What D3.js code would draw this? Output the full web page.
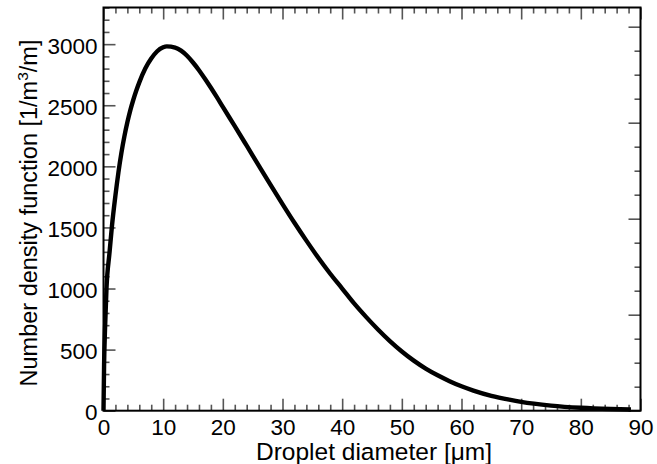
<!DOCTYPE html>
<html>
<head>
<meta charset="utf-8">
<script src="https://cdn.jsdelivr.net/npm/d3@7"></script>
<style>
body{margin:0;background:#fff;}
text{font-family:"Liberation Sans",Arial,Helvetica,sans-serif;}
</style>
</head>
<body>
<svg id="chart" width="657" height="464"></svg>
<script>
// Data
const diameters = [0,0.1,0.25,0.5,1,1.4,2,2.5,3,3.5,4,4.5,5,5.5,6,7,8,9,10,10.6,12,13,14,15,16,17,18,19,20,22,24,26,28,30,32,34,36,38,40,42,44,46,48,50,52,54,56,58,60,62,65,68,70,75,80,85,88.4];
const density   = [0,380,660,1000,1290,1504,1762,1950,2110,2245,2360,2460,2545,2620,2687,2800,2882,2942,2974,2982,2972,2947,2905,2850,2787,2717,2643,2566,2486,2329,2169,2008,1848,1691,1538,1392,1252,1121,1000,878,768,665,570,485,410,345,290,242,200,165,122,90,72,42,24,14,10];
const xTicks = [0,10,20,30,40,50,60,70,80,90];
const yTicks = [0,500,1000,1500,2000,2500,3000];
const xDomain = [0,90];
const yDomain = [0,3300];
const rightDomain = [0,4.2];

const svg = d3.select("#chart");
const L = 103.5, T = 7.5, R = 640.5, B = 410.7;
const x = d3.scaleLinear().domain(xDomain).range([L,R]);
const y = d3.scaleLinear().domain(yDomain).range([B,T]);
const yR = d3.scaleLinear().domain(rightDomain).range([B,T]);

const tickColor = "#555";
function styleAxis(g){
  g.select(".domain").remove();
  g.selectAll(".tick line").attr("stroke",tickColor).attr("stroke-width",1.6);
  g.selectAll(".tick text").attr("fill","#000").attr("font-size",22.5);
}
const minorX = d3.range(0,91,2).filter(v=>v%10!==0);
const minorY = d3.range(0,3301,100).filter(v=>v%500!==0);
const minorR = d3.range(0,4.2001,0.25).filter(v=>Math.abs(v-Math.round(v))>1e-6);

// bottom
svg.append("g").attr("transform",`translate(0,${B})`)
  .call(d3.axisBottom(x).tickValues(xTicks).tickSizeInner(-12).tickSizeOuter(0).tickFormat(d3.format("d")))
  .call(styleAxis).call(g=>g.selectAll(".tick text").attr("dy",null).attr("y",24.5));
svg.append("g").attr("transform",`translate(0,${B})`)
  .call(d3.axisBottom(x).tickValues(minorX).tickSizeInner(-6).tickSizeOuter(0).tickFormat(""))
  .call(styleAxis);
// top
svg.append("g").attr("transform",`translate(0,${T})`)
  .call(d3.axisTop(x).tickValues(xTicks).tickSizeInner(-12).tickSizeOuter(0).tickFormat(""))
  .call(styleAxis);
svg.append("g").attr("transform",`translate(0,${T})`)
  .call(d3.axisTop(x).tickValues(minorX).tickSizeInner(-6).tickSizeOuter(0).tickFormat(""))
  .call(styleAxis);
// left
svg.append("g").attr("transform",`translate(${L},0)`)
  .call(d3.axisLeft(y).tickValues(yTicks).tickSizeInner(-12).tickSizeOuter(0).tickFormat(d3.format("d")))
  .call(styleAxis).call(g=>g.selectAll(".tick text").attr("x",-6).attr("dy","0.4em"));
svg.append("g").attr("transform",`translate(${L},0)`)
  .call(d3.axisLeft(y).tickValues(minorY).tickSizeInner(-6).tickSizeOuter(0).tickFormat(""))
  .call(styleAxis);
// right
svg.append("g").attr("transform",`translate(${R},0)`)
  .call(d3.axisRight(yR).tickValues([0,1,2,3,4]).tickSizeInner(-12).tickSizeOuter(0).tickFormat(""))
  .call(styleAxis);
svg.append("g").attr("transform",`translate(${R},0)`)
  .call(d3.axisRight(yR).tickValues(minorR).tickSizeInner(-6).tickSizeOuter(0).tickFormat(""))
  .call(styleAxis);

// frame
svg.append("rect").attr("x",L).attr("y",T).attr("width",R-L).attr("height",B-T)
  .attr("fill","none").attr("stroke","#000").attr("stroke-width",2);

// curve
const pts = diameters.map((d,i)=>[d,density[i]]);
svg.append("path").datum(pts)
  .attr("fill","none").attr("stroke","#000").attr("stroke-width",4.4)
  .attr("stroke-linejoin","round").attr("stroke-linecap","butt")
  .attr("d",d3.line().x(d=>x(d[0])).y(d=>y(d[1])).curve(d3.curveMonotoneX));

// axis titles
svg.append("text").attr("x",374).attr("y",460).attr("text-anchor","middle")
  .attr("font-size",24.5).text("Droplet diameter [μm]");
const yt = svg.append("text").attr("transform","translate(37,213) rotate(-90)")
  .attr("text-anchor","middle").attr("font-size",23.5);
yt.append("tspan").text("Number density function [1/m");
yt.append("tspan").attr("dy",-9).attr("font-size",15.5).text("3");
yt.append("tspan").attr("dy",9).text("/m]");
</script>
</body>
</html>
